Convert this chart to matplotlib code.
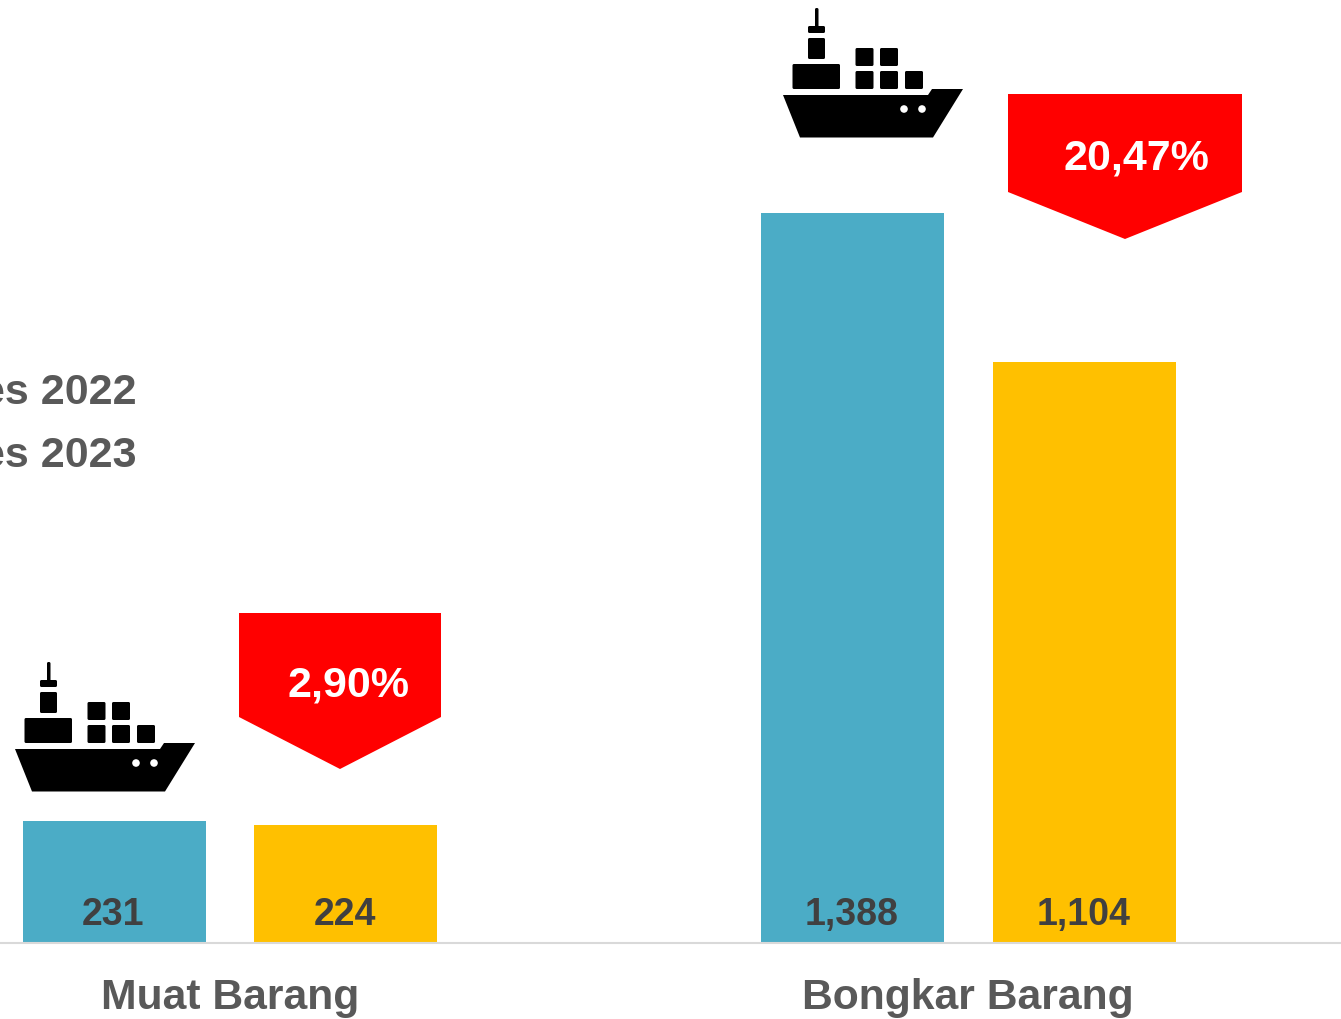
import numpy as np
import matplotlib.pyplot as plt
from matplotlib.patches import Polygon, Circle, FancyBboxPatch

plt.rcParams['font.family'] = ['Liberation Sans', 'DejaVu Sans']
plt.rcParams['text.kerning_factor'] = 6

categories = ['Muat Barang', 'Bongkar Barang']
values_2022 = [231, 1388]
values_2023 = [224, 1104]
labels_2022 = ['231', '1,388']
labels_2023 = ['224', '1,104']
changes = ['2,90%', '20,47%']
legend_names = ['Des 2022', 'Des 2023']

W, H = 1341, 1020
base_y = 944
px_per_unit = 0.526
cat_x = 229.9
cat_step = 738.4

fig = plt.figure(figsize=(W/100, H/100), dpi=100)

# Bars on value scale
ax = fig.add_axes([0, 0, 1, 1])
ax.set_xlim(-cat_x/cat_step, (W-cat_x)/cat_step)
ax.set_ylim(-(H-base_y)/px_per_unit, base_y/px_per_unit)
ax.axis('off')

x = np.arange(len(categories))
bw = 183/cat_step
off = 115.8/cat_step
bars1 = ax.bar(x-off, values_2022, bw, color='#4BACC6')
bars2 = ax.bar(x+off, values_2023, bw, color='#FFC000')

for xs, labels in [(x-off, labels_2022), (x+off, labels_2023)]:
    for i in range(len(xs)):
        ax.annotate(labels[i], (xs[i], 0), xytext=(-0.5, 29/100*72), textcoords='offset points',
                    ha='center', va='center', fontsize=27, fontweight='bold', color='#404040')

for i in range(len(categories)):
    ax.annotate(categories[i], (x[i], 0), xytext=(0, -54/100*72), textcoords='offset points',
                ha='center', va='center', fontsize=30.7, fontweight='bold', color='#595959')

# Decorations in pixel coordinates
ov = fig.add_axes([0, 0, 1, 1])
ov.set_xlim(0, W)
ov.set_ylim(H, 0)
ov.axis('off')
ov.patch.set_alpha(0)

ov.plot([0, W], [base_y, base_y], color='#D9D9D9', lw=1.5)


def draw_ship(dx, dy):
    for (x0, y0, w, h) in [(815, 9, 3.5, 20), (808, 27, 17, 7), (808, 39, 17, 21), (792.5, 65, 47.5, 25),
                           (855.5, 49, 18, 18), (880, 49, 18, 18), (855.5, 72, 18, 18), (880, 72, 18, 18),
                           (905, 72, 18, 18)]:
        ov.add_patch(FancyBboxPatch((x0+dx+1, y0+dy+1), w-2, h-2, boxstyle='round,pad=1,rounding_size=1.5',
                                    color='black', lw=0))
    hull = [(783, 96), (928, 96), (932, 90), (963, 90), (933, 138.5), (800, 138.5)]
    ov.add_patch(Polygon([(a+dx, b+dy) for a, b in hull], color='black', lw=0))
    for cx in [904, 922]:
        ov.add_patch(Circle((cx+dx, 110+dy), 3.8, color='white', lw=0))


draw_ship(0, 0)
draw_ship(-768, 654)

ov.add_patch(Polygon([(239, 614), (441, 614), (441, 718), (340, 770), (239, 718)], color='#FF0000', lw=0))
ov.add_patch(Polygon([(1008, 95), (1242, 95), (1242, 193), (1125, 240), (1008, 193)], color='#FF0000', lw=0))
ov.text(349, 686, changes[0], ha='center', va='center', fontsize=31, fontweight='bold', color='white')
ov.text(1136, 158, changes[1], ha='center', va='center', fontsize=31, fontweight='bold', color='white')

ov.text(137, 404, legend_names[0], ha='right', va='baseline', fontsize=31, fontweight='bold', color='#595959')
ov.text(137, 467, legend_names[1], ha='right', va='baseline', fontsize=31, fontweight='bold', color='#595959')

fig.savefig('out.png', dpi=100)
